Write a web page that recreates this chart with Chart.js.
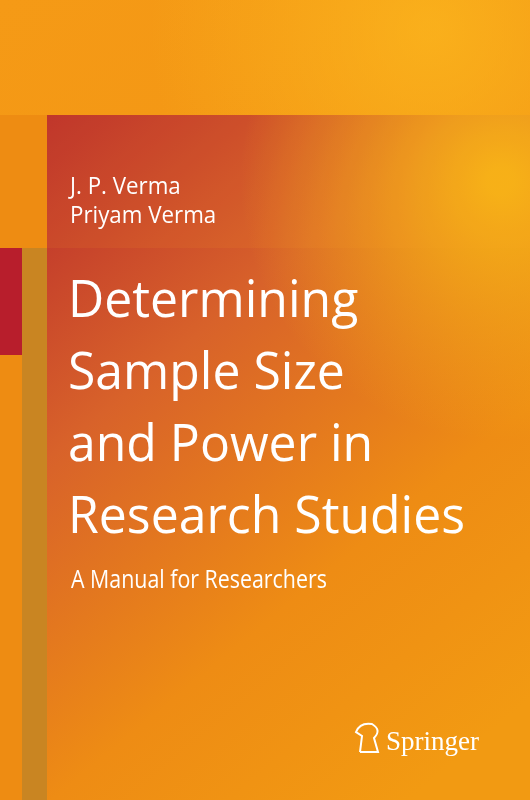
<!DOCTYPE html>
<html><head><meta charset="utf-8">
<script src="https://cdn.jsdelivr.net/npm/chart.js@4"></script>
<style>
html,body{margin:0;padding:0;width:530px;height:800px;overflow:hidden}
#wrap{position:relative;width:530px;height:800px}
canvas{position:absolute;left:0;top:0}
</style></head><body>
<div id="wrap"><canvas id="c" width="530" height="800"></canvas></div>
<script>
const authors = ["J. P. Verma", "Priyam Verma"];
const titleLines = ["Determining", "Sample Size", "and Power in", "Research Studies"];
const subtitle = ["A Manual for Researchers"];
const publisher = ["Springer"];

function condensed(ctx, text, x, y, sx) {
  ctx.save(); ctx.translate(x, y); ctx.scale(sx, 1); ctx.fillText(text, 0, 0); ctx.restore();
}

const coverPlugin = {
  id: 'cover',
  beforeDraw(chart) {
    const ctx = chart.ctx, W = chart.width, H = chart.height;
    ctx.save();
    let g = ctx.createLinearGradient(0, 0, W, H);
    g.addColorStop(0, '#f59a16'); g.addColorStop(1, '#f09010');
    ctx.fillStyle = g; ctx.fillRect(0, 0, W, H);
    let rg = ctx.createRadialGradient(430, 30, 10, 430, 30, 280);
    rg.addColorStop(0, 'rgba(252,185,30,0.7)'); rg.addColorStop(1, 'rgba(252,185,30,0)');
    ctx.fillStyle = rg; ctx.fillRect(0, 0, W, 115);
    ctx.fillStyle = '#ee8c12'; ctx.fillRect(0, 115, 47, H - 115);
    ctx.fillStyle = '#c98522'; ctx.fillRect(22, 248, 25, H - 248);
    ctx.fillStyle = '#b81e2c'; ctx.fillRect(0, 248, 22, 107);
    g = ctx.createLinearGradient(47, 115, 530, 700);
    g.addColorStop(0, '#b92a2c'); g.addColorStop(0.35, '#d8622a');
    g.addColorStop(0.7, '#ee8c14'); g.addColorStop(1, '#f29a12');
    ctx.fillStyle = g; ctx.fillRect(47, 115, W - 47, H - 115);
    rg = ctx.createRadialGradient(500, 180, 10, 500, 180, 260);
    rg.addColorStop(0, 'rgba(250,190,20,0.85)'); rg.addColorStop(1, 'rgba(250,190,20,0)');
    ctx.fillStyle = rg; ctx.fillRect(47, 115, W - 47, 500);
    ctx.fillStyle = 'rgba(255,170,40,0.10)'; ctx.fillRect(47, 115, W - 47, 133);
    ctx.fillStyle = '#ffffff';
    ctx.textBaseline = 'alphabetic';
    const F = '"Open Sans", sans-serif';
    ctx.font = '24px ' + F;
    authors.forEach((a, i) => condensed(ctx, a, 70, 194 + i * 29, 0.93));
    ctx.font = '52px ' + F;
    titleLines.forEach((t, i) => condensed(ctx, t, 68, 317 + i * 72, 0.96));
    ctx.font = '25px ' + F;
    condensed(ctx, subtitle[0], 71, 588, 0.855);
    ctx.font = '27px "Liberation Serif", serif';
    ctx.fillText(publisher[0], 386, 750);
    ctx.strokeStyle = '#fff'; ctx.lineWidth = 2;
    ctx.beginPath();
    ctx.moveTo(360, 752); ctx.lineTo(378, 752); ctx.lineTo(374, 738);
    ctx.quadraticCurveTo(382, 730, 372, 724); ctx.quadraticCurveTo(360, 722, 356, 732);
    ctx.lineTo(362, 736); ctx.lineTo(360, 752);
    ctx.stroke();
    ctx.restore();
  }
};

new Chart(document.getElementById('c'), {
  type: 'bar',
  data: { labels: [], datasets: [] },
  options: {
    responsive: false, animation: false,
    plugins: { legend: { display: false }, tooltip: { enabled: false } },
    scales: { x: { display: false }, y: { display: false } }
  },
  plugins: [coverPlugin]
});
</script></body></html>
